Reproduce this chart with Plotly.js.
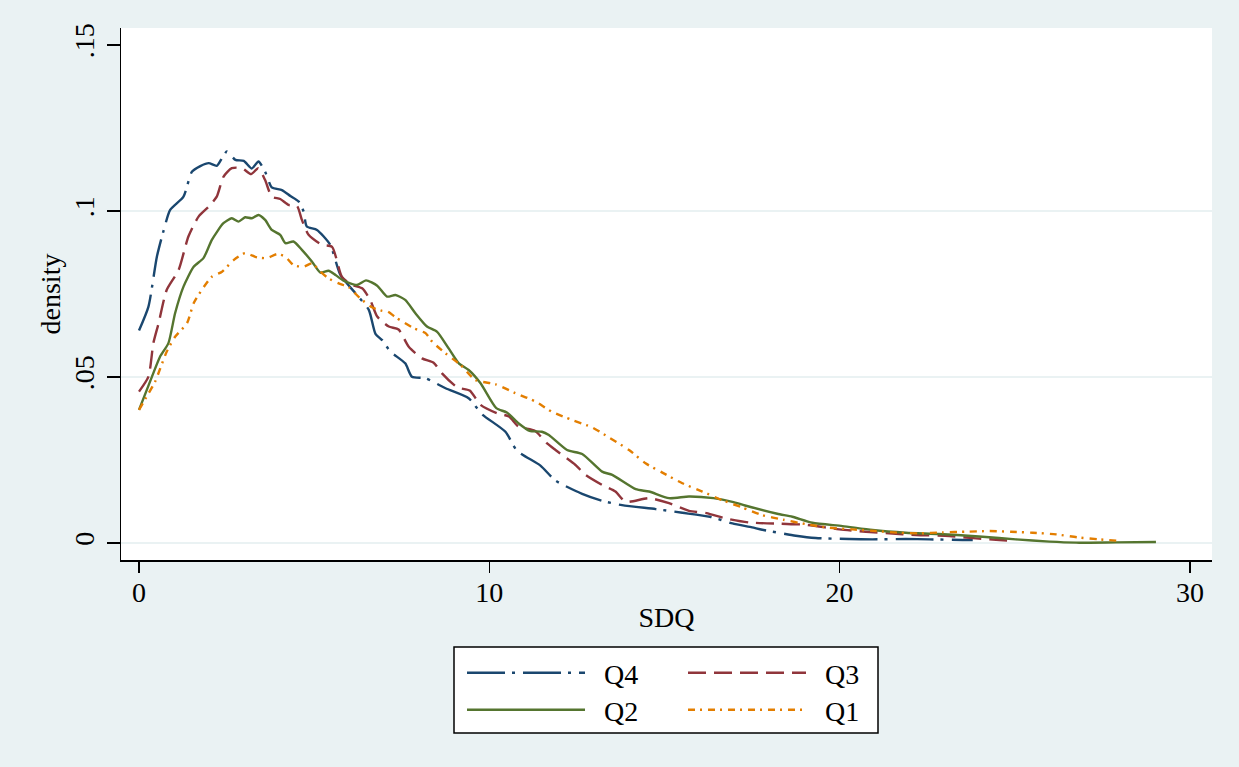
<!DOCTYPE html>
<html>
<head>
<meta charset="utf-8">
<script src="https://cdn.plot.ly/plotly-3.0.1.min.js"></script>
<style>html,body{margin:0;padding:0;background:#EAF2F3;}#chart{width:1239px;height:767px;}</style>
</head>
<body>
<div id="chart"></div>
<script>
// SDQ grid points and kernel density estimates
const q4x = [0,0.27,0.51,0.7,0.89,1.27,1.51,1.75,1.99,2.22,2.4,2.51,2.75,2.99,3.22,3.41,3.6,3.79,4.08,4.32,4.56,4.7,4.79,5.08,5.46,5.75,6.18,6.56,6.75,6.94,7.18,7.6,7.79,8.18,8.75,9.41,9.79,10.46,10.79,11.46,11.89,12.65,13.22,13.79,14.75,15.51,16.3,16.94,17.5,17.79,18.75,19.32,20.27,20.94,21.89,22.56,23.51,23.8];
const q4y = [0.064,0.0712,0.0862,0.094,0.1003,0.1043,0.1118,0.1135,0.1144,0.1136,0.1165,0.1179,0.1154,0.1151,0.1128,0.1149,0.1118,0.1071,0.1063,0.1045,0.1028,0.0998,0.0953,0.0943,0.0898,0.0807,0.0752,0.0702,0.063,0.0611,0.0576,0.0541,0.0501,0.0496,0.0466,0.0436,0.0388,0.0335,0.0278,0.0233,0.0188,0.0148,0.0127,0.0114,0.0102,0.0091,0.0079,0.0059,0.0047,0.004,0.0022,0.0015,0.0012,0.0011,0.0012,0.0011,0.0009,0.0009];

const q3x = [0,0.27,0.41,0.56,0.79,1.13,1.41,1.7,1.99,2.22,2.41,2.65,2.94,3.2,3.41,3.6,3.79,4.03,4.27,4.51,4.65,4.84,5.22,5.51,5.79,6.08,6.37,6.6,6.8,7.13,7.41,7.7,8.08,8.41,8.65,9.08,9.44,9.75,10.22,10.56,10.84,11.3,11.65,11.89,12.46,12.75,13.22,13.6,13.89,14.56,15.13,15.7,16.2,16.75,17.41,18.3,19.03,19.99,20.75,21.41,22.18,23.13,23.89,24.56,25];
const q3y = [0.0456,0.0501,0.0602,0.0662,0.0762,0.0822,0.0923,0.0983,0.1013,0.1043,0.1103,0.1129,0.1129,0.1111,0.1129,0.1093,0.1043,0.1036,0.1018,0.1015,0.0973,0.0928,0.0898,0.0892,0.0802,0.0777,0.0767,0.0732,0.0682,0.0652,0.0643,0.0591,0.0556,0.0543,0.0511,0.0469,0.0459,0.0416,0.0391,0.0381,0.035,0.0338,0.03,0.028,0.0235,0.0205,0.0175,0.0155,0.0124,0.0135,0.012,0.0097,0.009,0.0074,0.0062,0.0058,0.0055,0.0041,0.0034,0.0029,0.0024,0.0021,0.0014,0.0009,0.0006];

const q2x = [0,0.37,0.6,0.84,1.03,1.27,1.56,1.84,2.08,2.41,2.65,2.84,3.03,3.22,3.41,3.6,3.79,4.03,4.18,4.41,4.65,4.94,5.18,5.41,5.61,5.84,6.22,6.48,6.8,7.08,7.32,7.6,7.89,8.22,8.51,8.84,9.13,9.41,9.75,10.2,10.5,10.84,11.15,11.5,11.7,12.22,12.65,13.22,13.51,14.18,14.56,15.13,15.7,16.4,16.94,17.3,18.22,18.65,19.22,20.08,20.94,21.89,22.84,24.08,25.03,25.99,26.75,27.89,29.03];
const q2y = [0.0401,0.0501,0.0561,0.0602,0.0692,0.0772,0.0832,0.0858,0.0913,0.0963,0.0978,0.0968,0.0981,0.0978,0.0988,0.0973,0.0943,0.0928,0.0903,0.0908,0.0883,0.0847,0.0814,0.082,0.0807,0.079,0.0777,0.0791,0.0775,0.0742,0.0747,0.0732,0.0692,0.0652,0.0636,0.0586,0.0541,0.0521,0.0481,0.0406,0.0393,0.036,0.0338,0.0335,0.0325,0.028,0.0268,0.0215,0.0205,0.0162,0.0155,0.0135,0.014,0.0135,0.0124,0.0113,0.0088,0.0079,0.0061,0.0051,0.0039,0.0031,0.0027,0.0019,0.0011,0.0004,0.0001,0.0002,0.0003];

const q1x = [0,0.22,0.46,0.79,1.03,1.37,1.56,1.79,2.08,2.37,2.7,3.03,3.37,3.65,3.94,4.18,4.41,4.7,4.94,5.18,5.41,5.7,5.99,6.3,6.65,6.94,7.1,7.32,7.84,8.18,8.37,8.75,9.18,9.6,10.18,10.75,11.32,11.79,12.37,12.94,13.41,13.99,14.46,14.94,15.51,16.08,16.65,17.22,17.79,18.4,19.03,19.7,20.37,21.03,21.7,22.27,22.94,23.61,24.27,24.89,25.51,26.18,26.79,27.41,28.03];
const q1y = [0.0401,0.0441,0.0486,0.0576,0.0621,0.0662,0.0722,0.0762,0.0802,0.0817,0.0852,0.0873,0.086,0.0858,0.087,0.0862,0.0837,0.0832,0.0842,0.0817,0.0797,0.0782,0.077,0.0738,0.071,0.0699,0.0697,0.068,0.0647,0.0632,0.0606,0.0571,0.0536,0.0491,0.0478,0.0451,0.0426,0.0395,0.037,0.0348,0.0318,0.028,0.024,0.0212,0.018,0.0155,0.0129,0.0107,0.0084,0.007,0.0057,0.0046,0.0041,0.0036,0.0031,0.0029,0.0032,0.0034,0.0036,0.0034,0.0031,0.0026,0.0017,0.0011,0.0006];

const seriesNames = ["Q4","Q3","Q2","Q1"];
const xTickVals = [0,10,20,30];
const xTickText = ["0","10","20","30"];
const yTickVals = [0,0.05,0.1,0.15];
const yTickText = ["0",".05",".1",".15"];
const yGridVals = [0,0.05,0.1];

const FONT = "Liberation Serif, Times New Roman, serif";
const FS = 28;
const pad = "\u00a0\u00a0";

function tr(x, y, name, color, dash, legendId) {
  return {
    x: x, y: y, name: pad + name, type: "scatter", mode: "lines",
    line: {color: color, width: 2.4, dash: dash, shape: "spline", smoothing: 0.6},
    legend: legendId, hoverinfo: "skip"
  };
}

const traces = [
  tr(q4x, q4y, seriesNames[0], "#1a476f", "38px,7px,3px,8px", "legend"),
  tr(q3x, q3y, seriesNames[1], "#90353b", "18px,8px", "legend2"),
  tr(q2x, q2y, seriesNames[2], "#55752f", "solid", "legend3"),
  tr(q1x, q1y, seriesNames[3], "#e37e00", "7px,5px,2px,6px", "legend4")
];

function leg(x, y) {
  return {x: x, y: y, xanchor: "left", yanchor: "middle", xref: "paper", yref: "paper",
    bgcolor: "rgba(0,0,0,0)", borderwidth: 0, itemwidth: 118,
    font: {family: FONT, size: FS, color: "#000"}, itemclick: false, itemdoubleclick: false};
}

// plot area: x 121..1212 px, y 28..560 px
const L = 121, R = 1212, T = 28, B = 560;
const px2x = p => (p - L) / (R - L);
const px2y = p => (B - p) / (B - T);

const yRange = [-0.00512, 0.1551];

const layout = {
  width: 1239, height: 767,
  margin: {l: L, r: 1239 - R, t: T, b: 767 - B, pad: 0},
  paper_bgcolor: "#EAF2F3",
  plot_bgcolor: "#FFFFFF",
  font: {family: FONT, size: FS, color: "#000"},
  showlegend: true,
  xaxis: {
    range: [-0.514, 30.63], tickvals: xTickVals, ticktext: xTickText,
    showgrid: false, zeroline: false, showline: true, linecolor: "#000", linewidth: 1.5,
    ticks: "outside", ticklen: 11, tickwidth: 1.5, tickcolor: "#000",
    tickfont: {family: FONT, size: FS}, ticklabelstandoff: -4,
    title: {text: "SDQ", font: {family: FONT, size: FS}, standoff: 0}
  },
  yaxis: {
    range: yRange, tickvals: yTickVals, ticktext: yTickText,
    showgrid: false, zeroline: false,
    showline: true, linecolor: "#000", linewidth: 1.5,
    ticks: "outside", ticklen: 13, tickwidth: 1.5, tickcolor: "#000",
    tickangle: -90, tickfont: {family: FONT, size: FS}, ticklabelstandoff: 1,
    title: {text: "density", font: {family: FONT, size: FS}, standoff: 0}
  },
  yaxis2: {
    range: yRange, overlaying: "y", side: "left", tickvals: yGridVals,
    showgrid: true, gridcolor: "#EAF2F3", gridwidth: 1.5, zeroline: false,
    showline: false, ticks: "", showticklabels: false, layer: "below traces"
  },
  legend: leg(px2x(462), px2y(673)),
  legend2: leg(px2x(683), px2y(673)),
  legend3: leg(px2x(462), px2y(710)),
  legend4: leg(px2x(683), px2y(710)),
  shapes: [{
    type: "rect", xref: "paper", yref: "paper", layer: "below",
    x0: px2x(454), x1: px2x(878), y0: px2y(733), y1: px2y(647),
    line: {color: "#000", width: 1.5}, fillcolor: "#FFFFFF"
  }]
};

// invisible helper trace so the grid axis is drawn
traces.push({x: [0], y: [0], yaxis: "y2", type: "scatter", mode: "lines",
  line: {width: 0}, showlegend: false, hoverinfo: "skip"});

Plotly.newPlot("chart", traces, layout, {displayModeBar: false, staticPlot: true});
</script>
</body>
</html>
